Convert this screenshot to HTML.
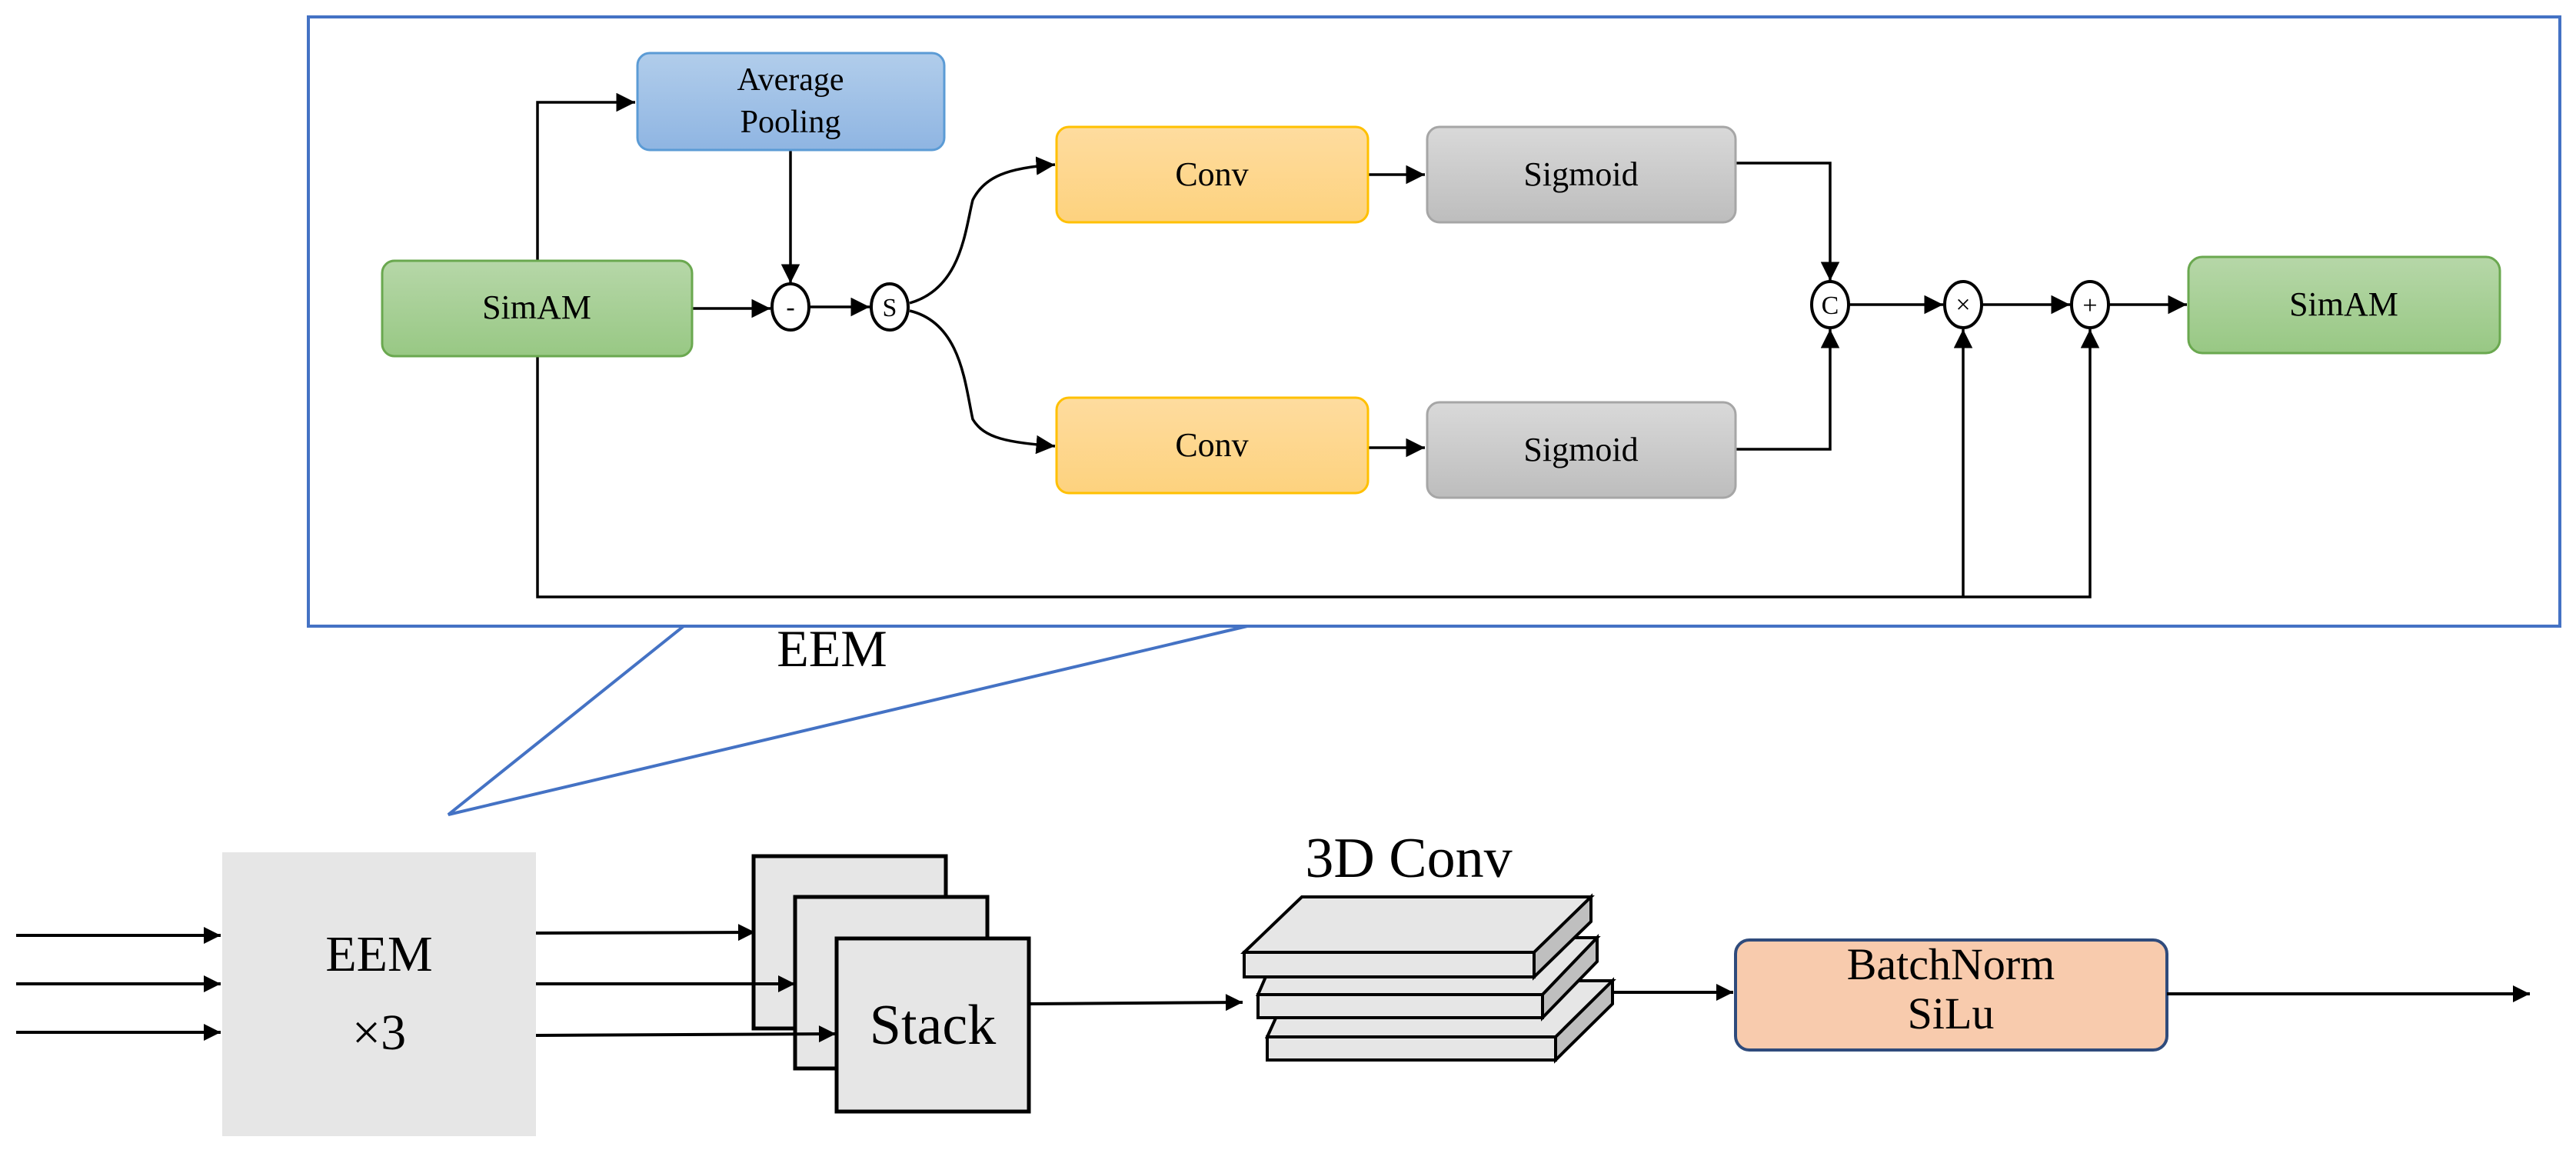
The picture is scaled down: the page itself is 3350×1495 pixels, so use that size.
<!DOCTYPE html>
<html><head><meta charset="utf-8"><style>
html,body{margin:0;padding:0;background:#fff;}
svg{display:block;}
svg text{font-family:"Liberation Serif","DejaVu Serif",serif;}
</style></head><body>
<svg width="3350" height="1495" viewBox="0 0 3350 1495" xmlns="http://www.w3.org/2000/svg" font-family="Liberation Serif, serif">
<defs>
<linearGradient id="g" x1="0" y1="0" x2="0" y2="1"><stop offset="0" stop-color="#b6d7a8"/><stop offset="1" stop-color="#98c884"/></linearGradient>
<linearGradient id="b" x1="0" y1="0" x2="0" y2="1"><stop offset="0" stop-color="#b1cdeb"/><stop offset="1" stop-color="#8fb5e2"/></linearGradient>
<linearGradient id="o" x1="0" y1="0" x2="0" y2="1"><stop offset="0" stop-color="#fedc9f"/><stop offset="1" stop-color="#fdd27e"/></linearGradient>
<linearGradient id="s" x1="0" y1="0" x2="0" y2="1"><stop offset="0" stop-color="#d9d9d9"/><stop offset="1" stop-color="#bdbdbd"/></linearGradient>
<marker id="a" viewBox="0 0 10 10" refX="10" refY="5" markerWidth="7" markerHeight="7" markerUnits="strokeWidth" orient="auto"><path d="M0,0 L10,5 L0,10 z" fill="#000"/></marker>
<marker id="a2" viewBox="0 0 10 10" refX="10" refY="5" markerWidth="6.5" markerHeight="5.5" markerUnits="strokeWidth" orient="auto"><path d="M0,0 L10,5 L0,10 z" fill="#000"/></marker>
</defs>

<rect x="401" y="22" width="2928" height="792" fill="none" stroke="#4472c4" stroke-width="4"/>
<polyline points="889,814 583,1059 1622,814" fill="none" stroke="#4472c4" stroke-width="4"/>
<text x="1082" y="866" font-size="68" text-anchor="middle" font-family="Liberation Serif, serif">EEM</text>

<g stroke="#000" stroke-width="3.5" fill="none">
<polyline points="699,339 699,133 826,133" marker-end="url(#a)"/>
<line x1="1028" y1="195" x2="1028" y2="368" marker-end="url(#a)"/>
<line x1="900" y1="401" x2="1002" y2="401" marker-end="url(#a)"/>
<line x1="1053" y1="399" x2="1131" y2="399" marker-end="url(#a)"/>
<path d="M1183,394 C1250,375 1255,300 1265,260 C1280,230 1310,218 1372,214" marker-end="url(#a)"/>
<path d="M1183,404 C1250,420 1255,500 1265,545 C1280,570 1310,575 1372,580" marker-end="url(#a)"/>
<line x1="1779" y1="227" x2="1853" y2="227" marker-end="url(#a)"/>
<line x1="1779" y1="582" x2="1853" y2="582" marker-end="url(#a)"/>
<polyline points="2257,212 2380,212 2380,365" marker-end="url(#a)"/>
<polyline points="2257,584 2380,584 2380,428" marker-end="url(#a)"/>
<line x1="2404" y1="396" x2="2527" y2="396" marker-end="url(#a)"/>
<line x1="2577" y1="396" x2="2692" y2="396" marker-end="url(#a)"/>
<line x1="2742" y1="396" x2="2844" y2="396" marker-end="url(#a)"/>
<polyline points="699,463 699,776 2718,776 2718,428" marker-end="url(#a)"/>
<line x1="2553" y1="776" x2="2553" y2="428" marker-end="url(#a)"/>
</g>

<rect x="497" y="339" width="403" height="124" rx="16" fill="url(#g)" stroke="#6aa84f" stroke-width="3"/>
<text x="698" y="414" font-size="44" text-anchor="middle" font-family="Liberation Serif, serif">SimAM</text>
<rect x="829" y="69" width="399" height="126" rx="16" fill="url(#b)" stroke="#5b9bd5" stroke-width="3"/>
<text x="1028" y="117" font-size="42" text-anchor="middle" font-family="Liberation Serif, serif">Average</text>
<text x="1028" y="172" font-size="42" text-anchor="middle" font-family="Liberation Serif, serif">Pooling</text>
<rect x="1374" y="165" width="405" height="124" rx="16" fill="url(#o)" stroke="#ffc000" stroke-width="3"/>
<text x="1576" y="241" font-size="44" text-anchor="middle" font-family="Liberation Serif, serif">Conv</text>
<rect x="1374" y="517" width="405" height="124" rx="16" fill="url(#o)" stroke="#ffc000" stroke-width="3"/>
<text x="1576" y="593" font-size="44" text-anchor="middle" font-family="Liberation Serif, serif">Conv</text>
<rect x="1856" y="165" width="401" height="124" rx="16" fill="url(#s)" stroke="#a6a6a6" stroke-width="3"/>
<text x="2056" y="241" font-size="44" text-anchor="middle" font-family="Liberation Serif, serif">Sigmoid</text>
<rect x="1856" y="523" width="401" height="124" rx="16" fill="url(#s)" stroke="#a6a6a6" stroke-width="3"/>
<text x="2056" y="599" font-size="44" text-anchor="middle" font-family="Liberation Serif, serif">Sigmoid</text>
<rect x="2846" y="334" width="405" height="125" rx="18" fill="url(#g)" stroke="#6aa84f" stroke-width="3"/>
<text x="3048" y="410" font-size="44" text-anchor="middle" font-family="Liberation Serif, serif">SimAM</text>

<g fill="#fff" stroke="#000" stroke-width="4">
<ellipse cx="1028" cy="399" rx="24" ry="30"/>
<ellipse cx="1157" cy="399" rx="24" ry="30"/>
<ellipse cx="2380" cy="396" rx="24" ry="30"/>
<ellipse cx="2553" cy="396" rx="24" ry="30"/>
<ellipse cx="2718" cy="396" rx="24" ry="30"/>
</g>
<g font-size="34" text-anchor="middle" font-family="DejaVu Sans, sans-serif">
<text x="1028" y="410" font-family="DejaVu Sans, sans-serif">-</text>
<text x="1157" y="411" font-family="DejaVu Sans, sans-serif">S</text>
<text x="2380" y="408" font-family="DejaVu Sans, sans-serif">C</text>
<text x="2553" y="407" font-family="DejaVu Sans, sans-serif">×</text>
<text x="2718" y="408" font-family="DejaVu Sans, sans-serif">+</text>
</g>

<rect x="289" y="1108" width="408" height="369" fill="#e6e6e6"/>
<text x="493" y="1262" font-size="66" text-anchor="middle" font-family="Liberation Serif, serif">EEM</text>
<text x="493" y="1364" font-size="66" text-anchor="middle" font-family="Liberation Serif, serif">×3</text>

<g stroke="#000" stroke-width="4" fill="none">
<line x1="21" y1="1216" x2="287" y2="1216" marker-end="url(#a2)"/>
<line x1="21" y1="1279" x2="287" y2="1279" marker-end="url(#a2)"/>
<line x1="21" y1="1342" x2="287" y2="1342" marker-end="url(#a2)"/>
</g>

<g fill="#e6e6e6" stroke="#000" stroke-width="5">
<rect x="980" y="1113" width="250" height="224"/>
<rect x="1034" y="1166" width="250" height="223"/>
<rect x="1088" y="1220" width="250" height="225"/>
</g>
<g stroke="#000" stroke-width="4" fill="none">
<line x1="697" y1="1213" x2="982" y2="1212" marker-end="url(#a2)"/>
<line x1="697" y1="1279" x2="1034" y2="1279" marker-end="url(#a2)"/>
<line x1="697" y1="1346" x2="1087" y2="1344" marker-end="url(#a2)"/>
</g>
<text x="1213" y="1357" font-size="74" text-anchor="middle" font-family="Liberation Serif, serif">Stack</text>
<line x1="1338" y1="1305" x2="1616" y2="1303" stroke="#000" stroke-width="4" marker-end="url(#a2)"/>

<text x="1832" y="1140" font-size="74" text-anchor="middle" font-family="Liberation Serif, serif">3D Conv</text>
<g stroke="#000" stroke-width="4" stroke-linejoin="miter">
<polygon points="1648,1348 1681,1275 2097,1275 2023,1348" fill="#e6e6e6"/>
<polygon points="2023,1348 2097,1275 2097,1305 2023,1378" fill="#bfbfbf"/>
<rect x="1648" y="1348" width="375" height="30" fill="#e6e6e6"/>
<polygon points="1636,1293 1668,1219 2077,1219 2006,1293" fill="#e6e6e6"/>
<polygon points="2006,1293 2077,1219 2077,1250 2006,1323" fill="#bfbfbf"/>
<rect x="1636" y="1293" width="370" height="30" fill="#e6e6e6"/>
<polygon points="1618,1238 1693,1166 2069,1166 1995,1238" fill="#e6e6e6"/>
<polygon points="1995,1238 2069,1166 2069,1198 1995,1270" fill="#bfbfbf"/>
<rect x="1618" y="1238" width="377" height="32" fill="#e6e6e6"/>
</g>
<line x1="2097" y1="1290" x2="2254" y2="1290" stroke="#000" stroke-width="4" marker-end="url(#a2)"/>

<rect x="2257" y="1222" width="561" height="143" rx="18" fill="#f8cbad" stroke="#2f4b7c" stroke-width="4"/>
<text x="2537" y="1273" font-size="58" text-anchor="middle" font-family="Liberation Serif, serif">BatchNorm</text>
<text x="2537" y="1337" font-size="58" text-anchor="middle" font-family="Liberation Serif, serif">SiLu</text>
<line x1="2818" y1="1292" x2="3290" y2="1292" stroke="#000" stroke-width="4" marker-end="url(#a2)"/>
</svg>
</body></html>
